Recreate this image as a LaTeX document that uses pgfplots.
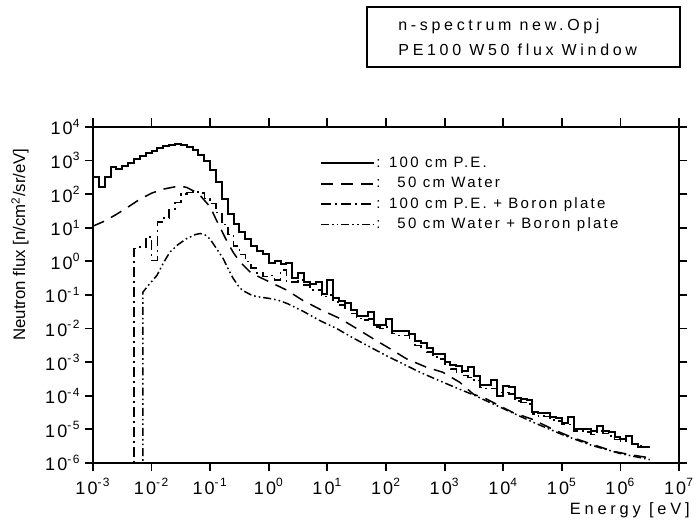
\documentclass[border=0pt]{standalone}
\usepackage{fontspec}
\setmainfont{Liberation Sans}[LetterSpace=23]
\newfontfamily\plainsans{Liberation Sans}
\newfontfamily\ticksans{Liberation Sans}[LetterSpace=12]
\newfontfamily\legsans{Liberation Sans}[LetterSpace=15]
\usepackage{pgfplots}
\pgfplotsset{compat=1.18}

\begin{document}
\begin{tikzpicture}
\begin{axis}[
  width=293pt, height=168pt, scale only axis,
  xmode=log, ymode=log,
  xmin=1e-3, xmax=1e7, ymin=1e-6, ymax=1e4,
  xtick={1e-3,1e-2,1e-1,1,10,100,1e3,1e4,1e5,1e6,1e7},
  xticklabels={10\textsuperscript{-3},10\textsuperscript{-2},10\textsuperscript{-1},10\textsuperscript{0},10\textsuperscript{1},10\textsuperscript{2},10\textsuperscript{3},10\textsuperscript{4},10\textsuperscript{5},10\textsuperscript{6},10\textsuperscript{7}},
  ytick={1e-6,1e-5,1e-4,1e-3,1e-2,1e-1,1,10,100,1e3,1e4},
  yticklabels={10\textsuperscript{-6},10\textsuperscript{-5},10\textsuperscript{-4},10\textsuperscript{-3},10\textsuperscript{-2},10\textsuperscript{-1},10\textsuperscript{0},10\textsuperscript{1},10\textsuperscript{2},10\textsuperscript{3},10\textsuperscript{4}},
  xminorticks=false, yminorticks=false,
  tick align=outside,
  major tick length=4.25pt,
  tick style={black, line width=0.9pt},
  axis line style={line width=1pt},
  ticklabel style={font={\ticksans\fontsize{9}{10}\selectfont}},
  yticklabel style={xshift=1.5pt},
  xlabel={Energy [eV]},
  xlabel style={at={([xshift=5.5pt,yshift=-19.5pt]axis description cs:1,0)}, anchor=north east, inner sep=0pt, font=\fontsize{8.2}{9}\selectfont},
  ylabel={Neutron flux [n/cm\textsuperscript{2}/sr/eV]},
  ylabel style={at={([xshift=-36.5pt,yshift=-10.5pt]axis description cs:0,1)}, anchor=east, inner sep=0pt, font={\plainsans\fontsize{8.4}{9}\selectfont}},
  no markers,
  legend style={draw=none, fill=none, at={(0.387,0.917)}, anchor=north west, inner sep=0pt,
    font={\legsans\fontsize{7.5}{8}\selectfont}, cells={anchor=west}, row sep=2pt,
    nodes={inner sep=0.6pt, text height=5.5pt, text depth=1.5pt}},
  legend image code/.code={\draw[#1] (0pt,0pt) -- (26.5pt,0pt);},
]
\coordinate (sw) at (rel axis cs:0,0);

% 100 cm P.E.
\addplot[black, line width=1pt, const plot] coordinates {
(1e-3,324) (1.259e-3,162) (1.585e-3,324) (1.995e-3,631) (2.512e-3,562) (3.162e-3,708) (3.981e-3,851) (5.012e-3,1122) (6.310e-3,1349) (7.943e-3,1660)
(1e-2,1995) (1.259e-2,2291) (1.585e-2,2692) (1.995e-2,2951) (2.512e-2,3020) (3.162e-2,2818) (3.981e-2,2512) (5.012e-2,2138) (6.310e-2,1514) (7.943e-2,1000)
(0.1,525) (0.1259,224) (0.1585,70.8) (0.1995,25.1) (0.2512,13.2) (0.3162,7.59) (0.3981,4.57) (0.5012,2.82) (0.6310,2.00) (0.7943,1.66)
(1,0.891) (1.259,1.0) (1.585,0.813) (1.995,0.891) (2.512,0.331) (3.162,0.457) (3.981,0.245) (5.012,0.219) (6.310,0.251) (7.943,0.110)
(10,0.282) (12.59,0.0813) (15.85,0.0676) (19.95,0.0562) (25.12,0.0355) (31.62,0.0245) (39.81,0.0245) (50.12,0.0309) (63.10,0.0132) (79.43,0.0132)
(100,0.0191) (125.9,8.71e-3) (158.5,8.71e-3) (199.5,8.32e-3) (251.2,6.76e-3) (316.2,4.27e-3) (398.1,3.80e-3) (501.2,2.63e-3) (631.0,1.78e-3) (794.3,1.78e-3)
(1e3,1.0e-3) (1259,8.32e-4) (1585,7.94e-4) (1995,5.62e-4) (2512,7.08e-4) (3162,3.98e-4) (3981,2.04e-4) (5012,2.04e-4) (6310,2.88e-4) (7943,1.02e-4)
(1e4,1.91e-4) (12590,1.78e-4) (15850,8.32e-5) (19950,7.94e-5) (25120,7.59e-5) (31620,3.24e-5) (39810,3.16e-5) (50120,3.02e-5) (63100,2.29e-5) (79430,2.19e-5)
(1e5,1.58e-5) (125900,2.29e-5) (158500,1.05e-5) (199500,1.05e-5) (251200,1.0e-5) (316200,8.91e-6) (398100,1.26e-5) (501200,8.91e-6) (631000,8.32e-6) (794300,5.89e-6)
(1e6,5.25e-6) (1.259e6,6.31e-6) (1.585e6,3.72e-6) (1.995e6,2.95e-6) (2.512e6,2.95e-6) (3.162e6,2.95e-6)
};
\addlegendentry{: 100 cm P.E.}

% 50 cm Water
\addplot[black, line width=0.75pt, dash pattern=on 6pt off 4pt] coordinates {
(1e-3,11.22) (1.585e-3,15.85) (2.512e-3,25.12) (3.981e-3,41.69) (6.310e-3,70.79) (1e-2,107.2) (1.585e-2,141.3) (2.512e-2,166.0) (3.162e-2,173.8) (3.981e-2,158.5)
(6.310e-2,104.7) (0.1,41.69) (0.1259,17.78) (0.1585,7.943) (0.1995,3.548) (0.2512,1.778) (0.3162,1.0) (0.5012,0.4467) (1,0.2512) (1.995,0.1413)
(3.802,0.06918) (7.943,0.03548) (16.41,0.01995) (31.62,0.01) (60.26,5.012e-3) (117.5,2.512e-3) (223.9,1.259e-3) (489.8,7.079e-4) (933.3,5.012e-4) (1820,2.512e-4)
(3090,1.122e-4) (5248,7.943e-5) (8710,5.012e-5) (14790,3.162e-5) (31620,1.995e-5) (70790,1e-5) (154900,5.623e-6) (338800,3.548e-6) (741300,2.239e-6) (1.445e6,1.778e-6)
(3.236e6,1.413e-6)
};
\addlegendentry{: \phantom{1}50 cm Water}

% 100 cm P.E. + Boron plate
\addplot[black, line width=0.8pt, const plot, dash pattern=on 5pt off 2pt on 1pt off 2pt] coordinates {
(5.012e-3,1e-7) (5.012e-3,2.399) (6.310e-3,2.630) (7.943e-3,5.248)
(1e-2,1.072) (1.259e-2,14.79) (1.585e-2,19.95) (1.995e-2,35.48) (2.512e-2,56.23) (3.162e-2,100) (3.981e-2,112.2) (5.012e-2,117.5) (6.310e-2,107.2) (7.943e-2,74.13)
(0.1,52.48) (0.1259,28.18) (0.1585,12.59) (0.1995,6.310) (0.2512,2.818) (0.3162,1.585) (0.3981,1.0) (0.5012,0.631) (0.6310,0.4467) (0.7943,0.3548)
(1,0.3802) (1.259,0.2818) (1.585,0.5623) (1.995,0.2512) (2.512,0.2399) (3.162,0.2818) (3.981,0.1995) (5.012,0.1413) (6.310,0.1413) (7.943,0.0891)
(10,0.1) (12.59,0.0631) (15.85,0.0501) (19.95,0.0398) (25.12,0.0282) (31.62,0.01995) (39.81,0.01778) (50.12,0.01905) (63.10,0.01122) (79.43,0.01)
(100,0.01122) (125.9,7.079e-3) (158.5,6.310e-3) (199.5,6.310e-3) (251.2,5.012e-3) (316.2,3.162e-3) (398.1,2.818e-3) (501.2,1.995e-3) (631.0,1.413e-3) (794.3,1.259e-3)
(1e3,8.913e-4) (1259,6.310e-4) (1585,5.012e-4) (1995,3.981e-4) (2512,3.548e-4) (3162,2.818e-4) (3981,1.778e-4) (5012,1.660e-4) (6310,1.660e-4) (7943,1.259e-4)
(1e4,1.259e-4) (12590,1.122e-4) (15850,7.079e-5) (19950,6.310e-5) (25120,5.623e-5) (31620,2.818e-5) (39810,2.512e-5) (50120,2.399e-5) (63100,1.905e-5) (79430,1.778e-5)
(1e5,1.413e-5) (125900,1.413e-5) (158500,8.913e-6) (199500,8.913e-6) (251200,8.318e-6) (316200,7.079e-6) (398100,8.913e-6) (501200,7.586e-6) (631000,6.310e-6) (794300,5.012e-6)
(1e6,4.467e-6) (1.259e6,4.467e-6) (1.585e6,3.548e-6) (1.995e6,3.162e-6) (2.512e6,2.951e-6) (3.162e6,2.951e-6)
};
\addlegendentry{: 100 cm P.E. + Boron plate}

% 50 cm Water + Boron plate
\addplot[black, line width=0.75pt, dash pattern=on 4pt off 1.5pt on 0.8pt off 1.5pt on 0.8pt off 1.5pt] coordinates {
(7.079e-3,1e-7) (7.079e-3,0.1202) (8.913e-3,0.1995) (1.230e-2,0.3802) (1.585e-2,0.8913) (2.042e-2,1.862) (2.818e-2,3.162) (3.981e-2,4.786) (5.623e-2,6.310) (6.761e-2,6.761)
(8.318e-2,6.026) (0.1,4.571) (0.1259,2.512) (0.166,1.230) (0.1995,0.631) (0.2455,0.3162) (0.3162,0.166) (0.3631,0.1349) (0.5012,0.1) (0.631,0.0891)
(1,0.0794) (1.413,0.0708) (2.042,0.0562) (3.802,0.0331) (7.413,0.01738) (14.45,0.01) (27.54,5.248e-3) (53.70,2.818e-3) (104.7,1.514e-3) (195.0,8.913e-4)
(380.2,5.012e-4) (741.3,3.020e-4) (1380,1.905e-4) (3162,1.047e-4) (1e4,4.169e-5) (31620,1.660e-5) (1e5,7.079e-6) (316200,3.388e-6) (1e6,1.905e-6) (3.162e6,1.259e-6)
};
\addlegendentry{: \phantom{1}50 cm Water + Boron plate}
\end{axis}

\draw[line width=0.6pt] (sw) ++(137pt,198pt) rectangle ++(156.5pt,30pt);
\node[anchor=west, align=left, inner sep=0pt, font=\fontsize{8}{12.5}\selectfont] at ([shift={(152.5pt,213pt)}]sw) {n-spectrum new.Opj\\PE100 W50 flux Window};

\pgfresetboundingbox
\path (sw) ++(-46.5pt,-29.5pt) rectangle ++(348.5pt,261pt);
\end{tikzpicture}
\end{document}
